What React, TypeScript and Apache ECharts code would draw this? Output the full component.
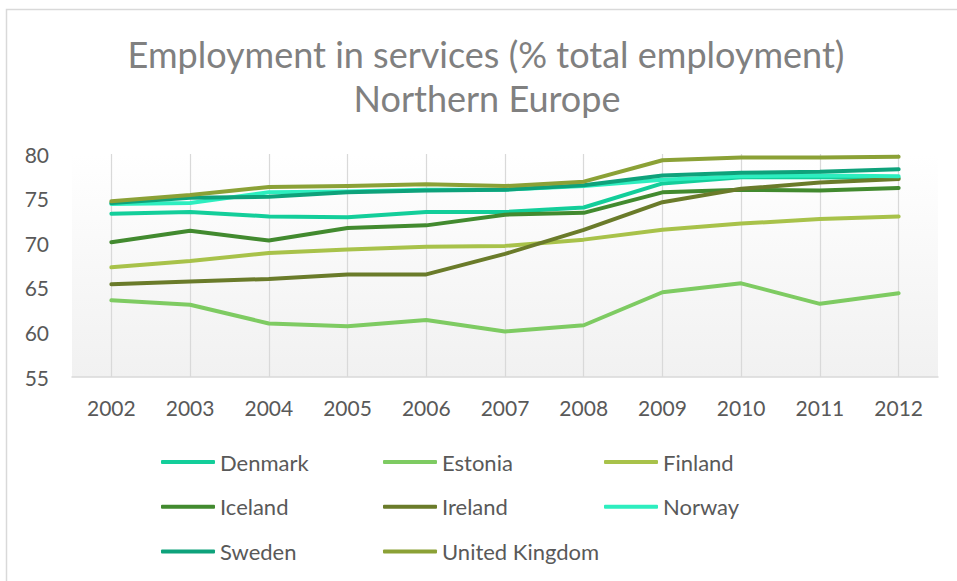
import React, { useEffect, useRef } from "react";
import * as echarts from "echarts";

const years = ["2002", "2003", "2004", "2005", "2006", "2007", "2008", "2009", "2010", "2011", "2012"];

const denmark = [73.3, 73.5, 73.0, 72.9, 73.5, 73.5, 74.0, 76.7, 77.4, 77.4, 77.3];
const estonia = [63.6, 63.1, 61.0, 60.7, 61.4, 60.1, 60.8, 64.5, 65.5, 63.2, 64.4];
const finland = [67.3, 68.0, 68.9, 69.3, 69.6, 69.7, 70.4, 71.5, 72.2, 72.7, 73.0];
const iceland = [70.1, 71.4, 70.3, 71.7, 72.0, 73.2, 73.4, 75.7, 76.0, 75.9, 76.2];
const ireland = [65.4, 65.7, 66.0, 66.5, 66.5, 68.8, 71.5, 74.6, 76.1, 76.8, 77.2];
const norway = [74.4, 74.5, 75.7, 75.8, 76.0, 76.0, 76.4, 77.1, 77.5, 77.6, 77.5];
const sweden = [74.5, 75.1, 75.2, 75.7, 75.9, 76.0, 76.5, 77.6, 77.9, 78.0, 78.3];
const unitedKingdom = [74.7, 75.4, 76.3, 76.4, 76.6, 76.4, 76.9, 79.3, 79.6, 79.6, 79.7];

const seriesNames = ["Denmark", "Estonia", "Finland", "Iceland", "Ireland", "Norway", "Sweden", "United Kingdom"];
const seriesValues = [denmark, estonia, finland, iceland, ireland, norway, sweden, unitedKingdom];
const seriesColors = ["#13CE9A", "#7ECB62", "#A8C24A", "#428A2F", "#6A7B2A", "#2DEEBF", "#0EA27B", "#8BA136"];

const legendColumns = [
  ["Denmark", "Iceland", "Sweden"],
  ["Estonia", "Ireland", "United Kingdom"],
  ["Finland", "Norway"],
];
const legendLefts = [161, 383, 604];

const titleLines = ["Employment in services (% total employment)", "Northern Europe"];

const FONT = "Lato";

export default function App() {
  const ref = useRef<HTMLDivElement>(null);

  useEffect(() => {
    if (!ref.current) return;
    const chart = echarts.init(ref.current, undefined, { renderer: "svg" });

    chart.setOption({
      animation: false,
      backgroundColor: "#ffffff",
      graphic: [
        {
          type: "rect",
          silent: true,
          z: -10,
          shape: { x: 6.5, y: 9.5, width: 1000, height: 1000 },
          style: { fill: "none", stroke: "#d9d9d9", lineWidth: 1.5 },
        },
        {
          type: "text",
          x: 486,
          y: 54,
          style: {
            text: titleLines[0],
            fill: "#808080",
            font: `36px ${FONT}`,
            textAlign: "center",
            textVerticalAlign: "middle",
          },
        },
        {
          type: "text",
          x: 487,
          y: 98,
          style: {
            text: titleLines[1],
            fill: "#808080",
            font: `36px ${FONT}`,
            textAlign: "center",
            textVerticalAlign: "middle",
          },
        },
      ],
      grid: {
        left: 72,
        right: 19,
        top: 154,
        bottom: 204,
        show: true,
        borderWidth: 0,
        backgroundColor: new echarts.graphic.LinearGradient(0, 0, 0, 1, [
          { offset: 0, color: "#ffffff" },
          { offset: 1, color: "#f1f1f1" },
        ]),
      },
      legend: legendColumns.map((col, i) => ({
        data: col,
        orient: "vertical",
        left: legendLefts[i],
        top: 450,
        padding: 0,
        itemGap: 20.7,
        itemWidth: 54,
        itemHeight: 4,
        icon: "roundRect",
        textStyle: { fontFamily: FONT, fontSize: 22, color: "#595959", lineHeight: 24 },
      })),
      xAxis: {
        type: "category",
        data: years,
        boundaryGap: true,
        axisLine: { show: true, lineStyle: { color: "#d9d9d9", width: 1.5 } },
        axisTick: { show: false },
        axisLabel: { fontFamily: FONT, fontSize: 21, color: "#595959", margin: 20 },
        splitLine: { show: true, alignWithLabel: true, lineStyle: { color: "#d9d9d9", width: 1.25 } },
      },
      yAxis: {
        type: "value",
        min: 55,
        max: 80,
        interval: 5,
        axisLine: { show: false },
        axisTick: { show: false },
        splitLine: { show: false },
        axisLabel: { fontFamily: FONT, fontSize: 21, color: "#595959", margin: 23 },
      },
      series: seriesNames.map((name, i) => ({
        name,
        type: "line",
        data: seriesValues[i],
        showSymbol: false,
        symbol: "none",
        color: seriesColors[i],
        lineStyle: { width: 4, color: seriesColors[i], cap: "round", join: "round" },
      })),
    });

    return () => chart.dispose();
  }, []);

  return <div ref={ref} style={{ position: "absolute", left: 0, top: 0, width: 957, height: 581 }} />;
}
